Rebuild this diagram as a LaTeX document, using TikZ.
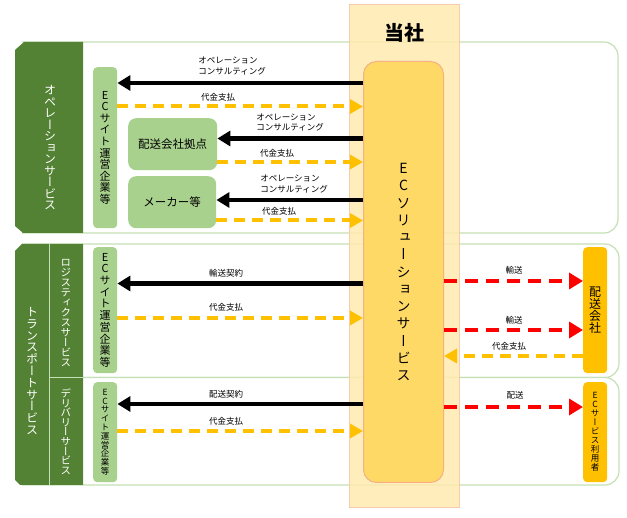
\documentclass[tikz,border=0pt]{standalone}
\usepackage{fontspec}
\setmainfont{Noto Sans CJK JP}
\newfontfamily\vfont[RawFeature=+vert]{Noto Sans CJK JP}
\usetikzlibrary{arrows.meta}
\definecolor{dgreen}{HTML}{548235}
\definecolor{lgreen}{HTML}{A9D18E}
\definecolor{pgreen}{HTML}{C5E0B4}
\definecolor{colfill}{HTML}{FFEBB0}
\definecolor{colline}{HTML}{F8CBAD}
\definecolor{solfill}{HTML}{FFD966}
\definecolor{solline}{HTML}{F4B183}
\definecolor{gold}{HTML}{FFC000}
\definecolor{redd}{HTML}{FF0000}
\makeatletter
\newcommand\vt[2]{\vbox{\baselineskip=#1\lineskiplimit=-\maxdimen\vt@loop#2\@nil}}
\def\vt@loop#1{\ifx#1\@nil\else\hbox to 2em{\hss#1\hss}\expandafter\vt@loop\fi}
\makeatother
\begin{document}
\begin{tikzpicture}[x=1pt,y=-1pt,
  panel/.style={draw=pgreen, line width=1.2pt, fill=white, rounded corners=14pt},
  gbox/.style={fill=lgreen, rounded corners=4pt, inner sep=0pt, anchor=north west},
  obox/.style={fill=gold, rounded corners=4pt, inner sep=0pt, anchor=north west},
  blk/.style={line width=4.5pt, -{Triangle[length=13pt,width=15pt]}},
  orng/.style={draw=gold, line width=4pt, dash pattern=on 11pt off 7pt, -{Triangle[length=13pt,width=14pt]}},
  redarr/.style={draw=redd, line width=4.5pt, dash pattern=on 13pt off 8pt, -{Triangle[length=14pt,width=16pt]}},
  lbl/.style={font=\fontsize{8.5}{10.5}\selectfont, inner sep=0pt, align=left},
  tabtxt/.style={text=white, inner sep=0pt}
]
\useasboundingbox (0,0) rectangle (627,518);
% panels
\draw[panel] (22,42) -- (618,42) -- (618,233) -- (22,233);
\draw[panel] (22,244) -- (619,244) -- (619,377.5) -- (22,377.5);
\draw[panel] (22,377.5) -- (619,377.5) -- (619,485) -- (22,485);
% tabs
\fill[dgreen] (24,42) -- (83,42) -- (83,233) -- (23,233) -- (15,226) -- (15,50) -- cycle;
\fill[dgreen] (22,244) -- (83,244) -- (83,485) -- (20,485) -- (15,480) -- (15,251) -- cycle;
\draw[pgreen, line width=1pt] (49.5,244) -- (49.5,485);
\draw[pgreen, line width=1pt] (49.5,378) -- (83,378);
\node[tabtxt, font=\vfont\fontsize{12}{12}\selectfont] (optab) at (50,147.5) {\vt{11.5pt}{オペレーションサービス}};
\node[tabtxt, font=\vfont\fontsize{12}{12}\selectfont] (trtab) at (32,371) {\vt{11.8pt}{トランスポートサービス}};
\node[tabtxt, font=\vfont\fontsize{10.5}{10.5}\selectfont] (lgtab) at (66,313) {\vt{10pt}{ロジスティクスサービス}};
\node[tabtxt, font=\vfont\fontsize{10.5}{10.5}\selectfont] (dltab) at (66,431.5) {\vt{9.6pt}{デリバリーサービス}};
% company column
\fill[colfill, fill opacity=0.85] (349,5) rectangle (459,508);
\draw[colline, line width=1pt] (349,5) rectangle (459,508);
\node[font=\bfseries\fontsize{20}{20}\selectfont, inner sep=0pt] (own) at (404,33) {当社};
\node[fill=solfill, draw=solline, line width=1pt, rounded corners=13pt, minimum width=80pt, minimum height=421pt, anchor=north west, inner sep=0pt, font=\vfont\fontsize{14}{14}\selectfont] (sol) at (363,61) {\vt{17.25pt}{ECソリューションサービス}};
% left boxes
\node[gbox, minimum width=24pt, minimum height=161pt, font=\vfont\fontsize{11}{11}\selectfont] (ec1) at (93,67) {\vt{11.6pt}{ECサイト運営企業等}};
\node[gbox, minimum width=89pt, minimum height=52pt, rounded corners=8pt, font=\fontsize{11.5}{11.5}\selectfont] (hub) at (128,118) {配送会社拠点};
\node[gbox, minimum width=88pt, minimum height=52pt, rounded corners=8pt, font=\fontsize{11.5}{11.5}\selectfont] (maker) at (128,176) {メーカー等};
\node[gbox, minimum width=24pt, minimum height=126pt, font=\vfont\fontsize{11}{11}\selectfont] (ec2) at (93,247) {\vt{11.7pt}{ECサイト運営企業等}};
\node[gbox, minimum width=24pt, minimum height=100pt, font=\vfont\fontsize{8.5}{8.5}\selectfont] (ec3) at (93,382) {\vt{8.8pt}{ECサイト運営企業等}};
% right boxes
\node[obox, minimum width=24pt, minimum height=126pt, font=\vfont\fontsize{12}{12}\selectfont] (haisou) at (583,247) {\vt{12pt}{配送会社}};
\node[obox, minimum width=24pt, minimum height=100pt, font=\vfont\fontsize{8.5}{8.5}\selectfont] (user) at (583,382) {\vt{9pt}{ECサービス利用者}};
% arrows operation
\draw[blk] (sol.west |- 0,83) -- (ec1.east |- 0,83);
\draw[orng] (ec1.east |- 0,106.5) -- (sol.west |- 0,106.5);
\draw[blk] (sol.west |- 0,138.5) -- (hub.east |- 0,138.5);
\draw[orng] (hub.east |- 0,162) -- (sol.west |- 0,162);
\draw[blk] (sol.west |- 0,200) -- (maker.east |- 0,200);
\draw[orng] (maker.east |- 0,220.5) -- (sol.west |- 0,220.5);
% arrows transport
\draw[blk] (sol.west |- 0,283.5) -- (ec2.east |- 0,283.5);
\draw[orng] (ec2.east |- 0,318) -- (sol.west |- 0,318);
\draw[blk] (sol.west |- 0,404) -- (ec3.east |- 0,404);
\draw[orng] (ec3.east |- 0,431) -- (sol.west |- 0,431);
% arrows right
\draw[redarr] (sol.east |- 0,281) -- (haisou.west |- 0,281);
\draw[redarr] (sol.east |- 0,330) -- (haisou.west |- 0,330);
\draw[orng] (haisou.west |- 0,356) -- (sol.east |- 0,356);
\draw[redarr] (sol.east |- 0,407) -- (user.west |- 0,407);
% labels
\node[lbl] (l1) at (232,66) {オペレーション\\コンサルティング};
\node[lbl] (l2) at (218,97) {代金支払};
\node[lbl] (l3) at (290,122.5) {オペレーション\\コンサルティング};
\node[lbl] (l4) at (277,153) {代金支払};
\node[lbl] (l5) at (294,184) {オペレーション\\コンサルティング};
\node[lbl] (l6) at (279,211) {代金支払};
\node[lbl] (l7) at (226,273) {輸送契約};
\node[lbl] (l8) at (226,307) {代金支払};
\node[lbl] (l9) at (226,394) {配送契約};
\node[lbl] (l10) at (226,421) {代金支払};
\node[lbl] (l11) at (514,270) {輸送};
\node[lbl] (l12) at (514,320) {輸送};
\node[lbl] (l13) at (509,346) {代金支払};
\node[lbl] (l14) at (515,395) {配送};
\end{tikzpicture}
\end{document}
